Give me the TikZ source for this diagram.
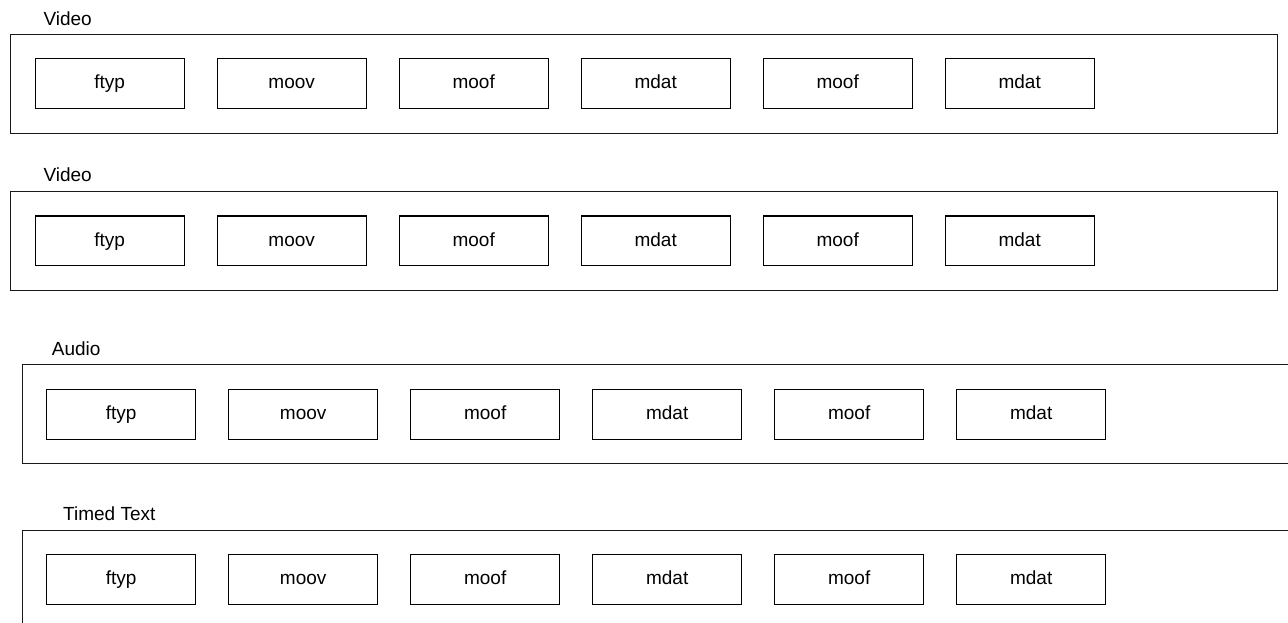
\documentclass[tikz,border=0pt]{standalone}
\usepackage{fontspec}
\setmainfont{Liberation Sans}
\begin{document}
\begin{tikzpicture}[x=1pt,y=-1pt,
  every node/.style={font=\fontsize{19}{22}\selectfont},
  trackbox/.style={draw=black!90, line width=1.4pt, inner sep=0pt, anchor=north west},
  atombox/.style={draw=black, line width=1.4pt, inner sep=0pt, minimum width=149pt, minimum height=49.5pt, text height=13.5pt, text depth=2.5pt, anchor=north west},
  tracklabel/.style={inner sep=0pt, anchor=base west}]
\clip (0,0) rectangle (1288,622);
\fill[white] (0,0) rectangle (1288,622);
% track containers: label, outer x, outer y, box x, box y
\foreach \r/\lab/\lx/\ly/\ox/\oy/\bx/\by in {
  1/Video/43.3/25/10/34/34.5/58,
  2/Video/43.3/181.5/10/191/34.5/215.2,
  3/Audio/51.7/355/21.5/364/46/389,
  4/Timed Text/63/520.5/21.5/529.5/46/554}{
  \node[trackbox, minimum width=1266.5pt, minimum height=98.5pt] (r\r) at (\ox,\oy) {};
  \node[tracklabel] (l\r) at (\lx,\ly) {\lab};
  \foreach \i/\t in {0/ftyp,1/moov,2/moof,3/mdat,4/moof,5/mdat}{
    \node[atombox] (b\r-\i) at (\bx+182*\i,\by) {\t};
  }
}
\end{tikzpicture}
\end{document}
